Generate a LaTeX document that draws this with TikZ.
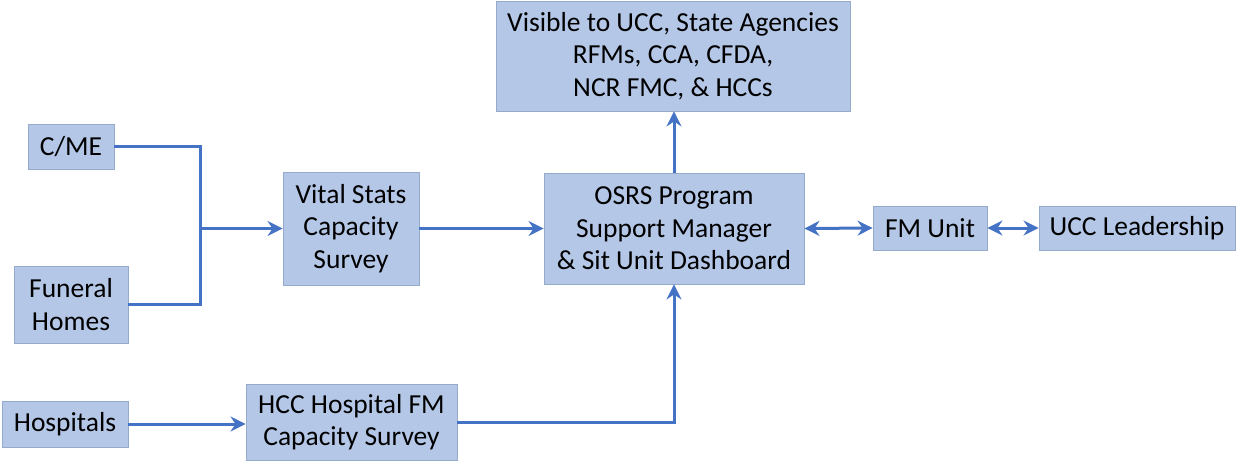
\documentclass[tikz,border=0pt]{standalone}
\usepackage{fontspec}
\setmainfont{Carlito}
\usetikzlibrary{arrows.meta,positioning,calc}
\definecolor{boxfill}{RGB}{180,199,231}
\definecolor{boxline}{RGB}{150,170,205}
\definecolor{flow}{RGB}{68,114,196}
\tikzset{
  blk/.style={rectangle, draw=boxline, line width=0.9pt, fill=boxfill,
              align=center, inner sep=0pt, font=\fontsize{27.5}{32.5}\selectfont},
  ar/.style={-{Stealth[length=15pt, width=15pt, inset=5pt]}, line width=3pt, draw=flow},
  arb/.style={{Stealth[length=15pt, width=15pt, inset=5pt]}-{Stealth[length=15pt, width=15pt, inset=5pt]},
              line width=3pt, draw=flow},
  ln/.style={line width=3pt, draw=flow},
}

\begin{document}
\begin{tikzpicture}[x=1pt, y=-1pt]
  \useasboundingbox (0,0) rectangle (1236,461);

  % ============ sources ============
  \node[blk, minimum width=86pt, minimum height=45pt] (cme) at (71,146.5) {C/ME};
  \node[blk, minimum width=114pt, minimum height=77pt] (fh) at (71,304.5) {Funeral\\ Homes};
  \node[blk, minimum width=126pt, minimum height=46pt] (hosp) at (65,424) {Hospitals};

  % ============ surveys ============
  \node[blk, minimum width=136pt, minimum height=113pt] (vital) at (351,228.5)
    {Vital Stats\\ Capacity\\ Survey};
  \node[blk, minimum width=211pt, minimum height=76pt] (hcc) at (351.5,422)
    {HCC Hospital FM\\ Capacity Survey};

  % ============ dashboard and outputs ============
  \node[blk, minimum width=260pt, minimum height=111pt] (osrs) at (674,228.5)
    {OSRS Program\\ Support Manager\\ \& Sit Unit Dashboard};
  \node[blk, minimum width=354pt, minimum height=110pt] (vis) at (673,56)
    {Visible to UCC, State Agencies\\ RFMs, CCA, CFDA,\\ NCR FMC, \& HCCs};
  \node[blk, minimum width=114pt, minimum height=44pt] (fmu) at (930,228) {FM Unit};
  \node[blk, minimum width=196pt, minimum height=44pt] (ucc) at (1137,228) {UCC Leadership};

  % ============ connectors ============
  \coordinate (jn) at (200,228.5);
  \draw[ln] (cme.east) -| (jn);
  \draw[ln] (fh.east) -| (jn);
  \draw[ar] (jn) -- (vital.west);
  \draw[ar] (vital.east) -- (osrs.west);
  \draw[ar] (osrs.north) -- (osrs.north |- vis.south);
  \draw[arb] (osrs.east) -- (fmu.west);
  \draw[arb] (fmu.east) -- (ucc.west);
  \draw[ar] (hosp.east) -- (hosp.east -| hcc.west);
  \draw[ar] (hcc.east) -| (osrs.south);

\end{tikzpicture}
\end{document}
